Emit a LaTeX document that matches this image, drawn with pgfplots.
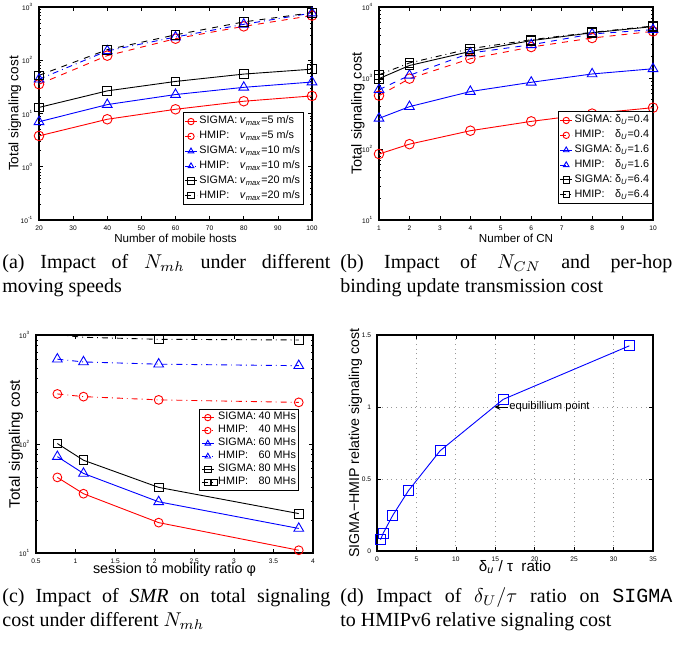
\documentclass[border=0pt]{standalone}
\usepackage{fontspec}
\setmainfont{Liberation Serif}
\setsansfont{Liberation Sans}
\setmonofont{Liberation Mono}
\usepackage{pgfplots}
\pgfplotsset{compat=1.18}

\newcommand{\lab}[1]{\makebox[3.75em][l]{#1}}
\newcommand{\vmax}{\textit{v}\textsubscript{\textit{max}}}
\newcommand{\dU}{δ\textsubscript{\textit{U}}}
\newcommand{\tp}[1]{10\textsuperscript{#1}}

\pgfplotsset{
 mlab/.style={
  scale only axis, anchor=south west,
  axis line style={line width=0.6pt},
  tick align=inside, tick pos=both,
  major tick length=2pt, minor tick length=1.1pt,
  every tick/.style={line width=0.3pt, black},
  /pgf/number format/assume math mode=true,
  tick label style={font=\sffamily\fontsize{3.3}{3.6}\selectfont},
  xticklabel style={yshift=0.6pt},
  yticklabel style={xshift=0.6pt},
  legend cell align=left,
  legend style={font=\sffamily\fontsize{5.4}{6}\selectfont, draw=black,
   fill=white, inner sep=0.8pt, nodes={inner sep=1pt}},
  legend image code/.code={\draw[mark repeat=2,mark phase=2,##1,mark size=1.6pt]
   plot coordinates {(0pt,0pt) (3pt,0pt) (6pt,0pt)};},
  every axis plot/.append style={line width=0.45pt, mark options={solid}},
 },
 ci/.style={mark=o, mark size=2.4pt},
 tr/.style={mark=triangle, mark size=2.8pt},
 sq/.style={mark=square, mark size=2.2pt},
}

\begin{document}
\begin{tikzpicture}
\useasboundingbox (0pt,0pt) rectangle (336.5pt,322.5pt);

% ---- (a) ----
\begin{axis}[mlab, at={(19.5pt,212.5pt)}, width=136.5pt, height=106.5pt,
 ymode=log, xmin=20, xmax=100, ymin=0.1, ymax=1000,
 xtick={20,30,...,100}, ytick={0.1,1,10,100,1000},
 yticklabels={\tp{-1},\tp{0},\tp{1},\tp{2},\tp{3}},
 xlabel={Number of mobile hosts}, ylabel={Total signaling cost},
 x label style={at={(rel axis cs:0.5,-0.106)}, anchor=base, font=\sffamily\fontsize{5.8}{6}\selectfont},
 y label style={at={(rel axis cs:-0.088,0.5)}, anchor=center, font=\sffamily\fontsize{6.8}{7}\selectfont},
 legend style={at={(0.971,0.07)}, anchor=south east},
]
\addplot[red, ci] coordinates {(20,3.8)(40,7.8)(60,12)(80,17)(100,21.4)};
\addlegendentry{\lab{SIGMA:}\vmax=5 m/s}
\addplot[red, ci, dashed] coordinates {(20,35.5)(40,122)(60,254)(80,433)(100,690)};
\addlegendentry{\lab{HMIP:}\vmax=5 m/s}
\addplot[blue, tr] coordinates {(20,7)(40,14.7)(60,22.7)(80,31)(100,39)};
\addlegendentry{\lab{SIGMA:}\vmax=10 m/s}
\addplot[blue, tr, dash dot] coordinates {(20,44)(40,150)(60,273)(80,473)(100,770)};
\addlegendentry{\lab{HMIP:}\vmax=10 m/s}
\addplot[black, sq] coordinates {(20,13)(40,26.6)(60,40)(80,55)(100,68)};
\addlegendentry{\lab{SIGMA:}\vmax=20 m/s}
\addplot[black, sq, dashed] coordinates {(20,52)(40,158)(60,300)(80,525)(100,780)};
\addlegendentry{\lab{HMIP:}\vmax=20 m/s}
\end{axis}

% ---- (b) ----
\begin{axis}[mlab, at={(189.5pt,212.5pt)}, width=137pt, height=106.5pt,
 ymode=log, xmin=1, xmax=10, ymin=10, ymax=10000,
 xtick={1,2,...,10}, ytick={10,100,1000,10000},
 yticklabels={\tp{1},\tp{2},\tp{3},\tp{4}},
 xlabel={Number of CN}, ylabel={Total signaling cost},
 x label style={at={(rel axis cs:0.5,-0.106)}, anchor=base, font=\sffamily\fontsize{5.8}{6}\selectfont},
 y label style={at={(rel axis cs:-0.0766,0.5)}, anchor=center, font=\sffamily\fontsize{7.2}{7.5}\selectfont},
 legend style={at={(1,0.075)}, anchor=south east},
]
\addplot[red, ci] coordinates {(1,85)(2,117)(4,181)(6,245)(8,315)(10,382)};
\addlegendentry{\lab{SIGMA:}\dU=0.4}
\addplot[red, ci, dashed] coordinates {(1,565)(2,980)(4,1870)(6,2730)(8,3660)(10,4540)};
\addlegendentry{\lab{HMIP:}\dU=0.4}
\addplot[blue, tr] coordinates {(1,270)(2,395)(4,645)(6,870)(8,1140)(10,1350)};
\addlegendentry{\lab{SIGMA:}\dU=1.6}
\addplot[blue, tr, dashed] coordinates {(1,685)(2,1090)(4,2250)(6,2940)(8,4170)(10,4800)};
\addlegendentry{\lab{HMIP:}\dU=1.6}
\addplot[black, sq] coordinates {(1,980)(2,1500)(4,2370)(6,3360)(8,4340)(10,5300)};
\addlegendentry{\lab{SIGMA:}\dU=6.4}
\addplot[black, sq, dash dot] coordinates {(1,1110)(2,1630)(4,2590)(6,3460)(8,4400)(10,5400)};
\addlegendentry{\lab{HMIP:}\dU=6.4}
\end{axis}

% ---- (c) ----
\begin{axis}[mlab, at={(18pt,46pt)}, width=138.5pt, height=109pt,
 ymode=log, xmin=0.5, xmax=4, ymin=10, ymax=1000,
 xtick={0.5,1,...,4}, ytick={10,100,1000},
 yticklabels={\tp{1},\tp{2},\tp{3}},
 xlabel={session to mobility ratio φ}, ylabel={Total signaling cost},
 x label style={at={(rel axis cs:0.5,-0.094)}, anchor=base, font=\sffamily\fontsize{7.2}{7.5}\selectfont},
 y label style={at={(rel axis cs:-0.072,0.5)}, anchor=center, font=\sffamily\fontsize{7.6}{8}\selectfont},
 legend style={at={(0.95,0.66)}, anchor=north east, nodes={inner sep=0.6pt}},
]
\addplot[red, ci, mark size=2.2pt] coordinates {(0.77,49.4)(1.1,35)(2.05,19)(3.82,10.6)};
\addlegendentry{\lab{SIGMA:}40 MHs}
\addplot[red, ci, mark size=2.2pt, dash dot] coordinates {(0.77,288)(1.1,272)(2.05,254)(3.82,241)};
\addlegendentry{\lab{HMIP:}40 MHs}
\addplot[blue, tr] coordinates {(0.77,76.6)(1.1,53.7)(2.05,29.5)(3.82,16.8)};
\addlegendentry{\lab{SIGMA:}60 MHs}
\addplot[blue, tr, dash dot] coordinates {(0.77,600)(1.1,566)(2.05,540)(3.82,523)};
\addlegendentry{\lab{HMIP:}60 MHs}
\addplot[black, sq] coordinates {(0.77,101)(1.1,71)(2.05,40)(3.82,23)};
\addlegendentry{\lab{SIGMA:}80 MHs}
\addplot[black, sq, dash dot, mark indices={2,3,4}] coordinates {(0.77,1005)(1.1,953)(2.05,913)(3.82,900)};
\addlegendentry{\lab{HMIP:}80 MHs}
\end{axis}

% ---- (d) ----
\begin{axis}[mlab, at={(188.5pt,47pt)}, width=138pt, height=108pt,
 xmin=0, xmax=35, ymin=0, ymax=1.5,
 xtick={0,5,...,35}, ytick={0,0.5,1,1.5},
 grid=major, major grid style={dotted, gray!80, line width=0.4pt},
 xlabel={δ\textsubscript{\textit{u}} / τ\ \ ratio},
 ylabel={SIGMA−HMIP relative signaling cost},
 x label style={at={(rel axis cs:0.5,-0.097)}, anchor=base, font=\sffamily\fontsize{7.6}{8}\selectfont},
 y label style={at={(rel axis cs:-0.078,0.5)}, anchor=center, font=\sffamily\fontsize{7.1}{7.5}\selectfont},
]
\addplot[blue, sq, mark size=2.5pt] coordinates {(0.45,0.079)(0.8,0.125)(2,0.248)(4,0.42)(8,0.696)(16,1.053)(32,1.425)};
\draw[->, line width=0.3pt, >=stealth] (axis cs:16.6,1.0) -- (axis cs:14.9,1.0);
\node[anchor=west, inner sep=0.5pt, font=\sffamily\fontsize{5.6}{6}\selectfont] at (axis cs:16.6,1.0) {equibillium point};
\end{axis}

% ---- captions ----
\begin{scope}[every node/.style={anchor=base west, inner sep=0pt, font=\fontsize{10}{12}\selectfont}]
\node at (1pt,188.5pt) {\parbox[t]{164pt}{(a) Impact of $N_{mh}$ under different\linebreak moving speeds}};
\node at (170pt,188.5pt) {\parbox[t]{166pt}{(b) Impact of $N_{CN}$ and per-hop\linebreak binding update transmission cost}};
\node at (1pt,21.5pt) {\parbox[t]{164pt}{(c) Impact of \textit{SMR} on total signaling\linebreak cost under different $N_{mh}$}};
\node at (170pt,21.5pt) {\parbox[t]{166pt}{(d) Impact of $\delta_U/\tau$ ratio on \texttt{SIGMA}\linebreak to HMIPv6 relative signaling cost}};
\end{scope}
\end{tikzpicture}
\end{document}
